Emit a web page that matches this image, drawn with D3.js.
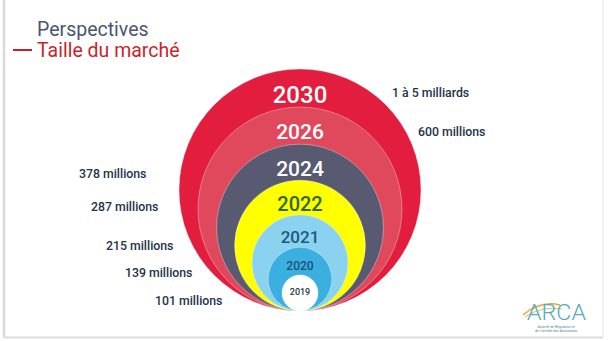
<!DOCTYPE html>
<html><head><meta charset="utf-8">
<script src="https://cdn.jsdelivr.net/npm/d3@7"></script>
<style>html,body{margin:0;padding:0;background:#fff;}svg{display:block;font-family:Roboto,"Noto Sans",sans-serif;}</style>
</head><body>
<script>
// Data
const years = ["2019","2020","2021","2022","2024","2026","2030"];
const marketSize = ["101 millions","139 millions","215 millions","287 millions","378 millions","600 millions","1 à 5 milliards"];
const ringColors = ["#ffffff","#3bafe0","#8ad2ef","#ffff00","#585a72","#e0485b","#e21d3e"];
const yearTextColors = ["#2b3340","#1d4f78","#1c5a7a","#2e6a1c","#ffffff","#ffffff","#ffffff"];
const yearFontSizes = [9,12,17,20,21,21,24];
const labelPos = [[155,305],[125,277],[106,250],[91,211],[79,178],[418,136],[392,97]];

const W=609,H=341;
const svg=d3.select("body").append("svg").attr("width",W).attr("height",H);

// slide frame
svg.append("line").attr("x1",4).attr("x2",4).attr("y1",0).attr("y2",337).attr("stroke","#d9d9d9").attr("stroke-width",2.5);
svg.append("line").attr("x1",4).attr("x2",603).attr("y1",337.5).attr("y2",337.5).attr("stroke","#dcdcdc").attr("stroke-width",2);
svg.append("line").attr("x1",603).attr("x2",603).attr("y1",0).attr("y2",337).attr("stroke","#eeeeee").attr("stroke-width",1.5);

// title
svg.append("text").attr("x",37).attr("y",36).attr("font-size",19.5).attr("fill","#4a5570").text("Perspectives");
svg.append("text").attr("x",37).attr("y",57).attr("font-size",19.5).attr("fill","#cc1f2b").text("Taille du marché");
svg.append("line").attr("x1",13).attr("x2",32).attr("y1",50).attr("y2",50).attr("stroke","#cc1f2b").attr("stroke-width",2);

// circles
const cx=300, bottom=311;
const idx=years.map((d,i)=>i);
const r=d3.scalePow().exponent(1.12).domain([0,years.length-1]).range([18,121]);

const g=svg.append("g");
idx.slice().reverse().forEach(i=>{
  g.append("circle").attr("cx",cx).attr("cy",bottom-r(i)).attr("r",r(i))
   .attr("fill",ringColors[i]).attr("stroke","rgba(255,255,255,0.35)").attr("stroke-width",1);
});

// year labels: placed within the band between this circle top and the next inner circle top
idx.forEach(i=>{
  const top=bottom-2*r(i);
  const yc = i===0 ? bottom-r(i)-1 : top + 0.68*((bottom-2*r(i-1))-top);
  g.append("text").attr("x",cx).attr("y",yc).attr("text-anchor","middle").attr("dominant-baseline","central")
   .attr("font-size",yearFontSizes[i]).attr("font-weight",500).attr("fill",yearTextColors[i]).text(years[i]);
});

// size labels
idx.forEach(i=>{
  svg.append("text").attr("x",labelPos[i][0]).attr("y",labelPos[i][1]).attr("font-size",12.3).attr("font-weight",500)
   .attr("fill","#22324a").text(marketSize[i]);
});

// ARCA logo
const lg=svg.append("g");
lg.append("path").attr("d","M523,315 C535,305 548,302 560,305").attr("fill","none").attr("stroke","#e8a43a").attr("stroke-width",1.6);
lg.append("path").attr("d","M525,317 C537,309 550,307 562,309").attr("fill","none").attr("stroke","#9ac14a").attr("stroke-width",0.8);
lg.append("text").attr("x",527).attr("y",320).attr("font-size",22).attr("font-weight",300).attr("fill","#5aa9bd").attr("textLength",59).attr("lengthAdjust","spacingAndGlyphs").text("ARCA");
lg.append("text").attr("x",556).attr("y",327.5).attr("text-anchor","middle").attr("font-size",3.4).attr("fill","#5a7f9a").text("Autorité de Régulation et");
lg.append("text").attr("x",556).attr("y",332).attr("text-anchor","middle").attr("font-size",3.4).attr("fill","#5a7f9a").text("de Contrôle des Assurances");
</script>
</body></html>
